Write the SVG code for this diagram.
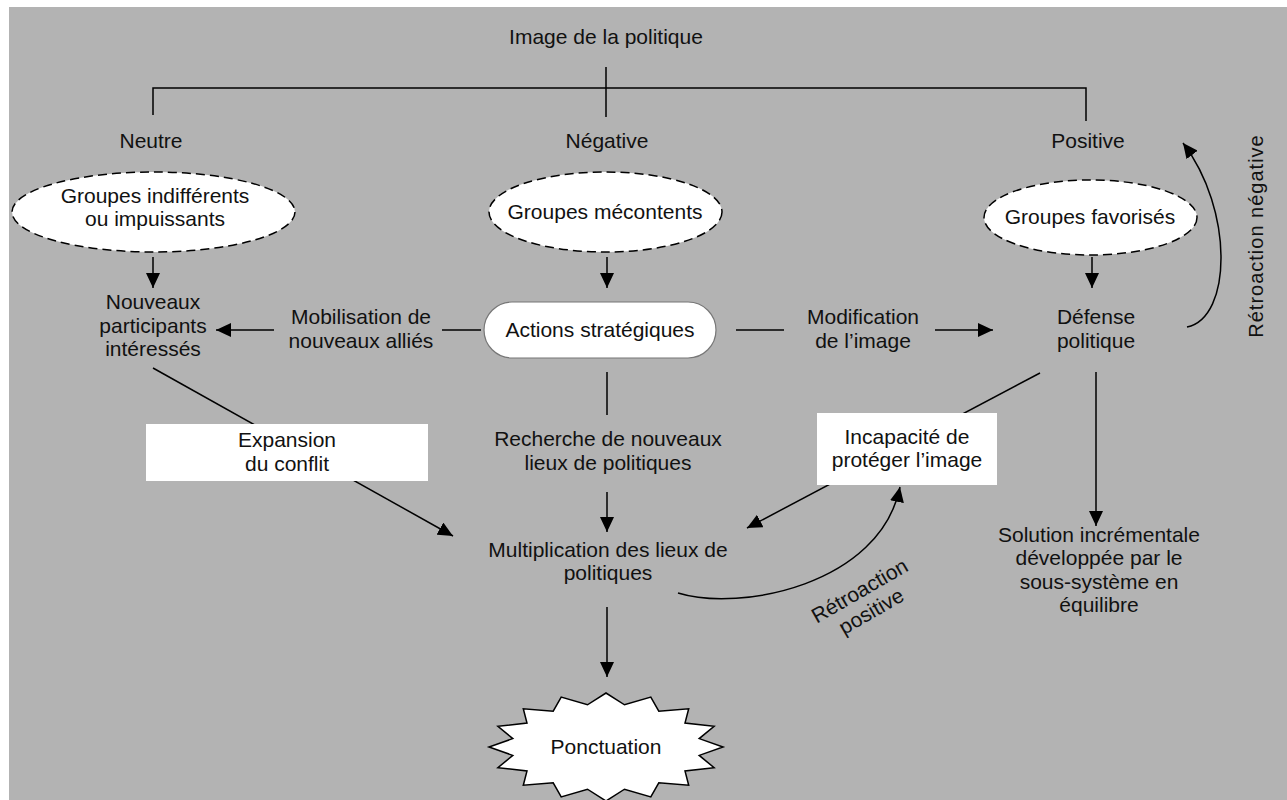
<svg xmlns="http://www.w3.org/2000/svg" width="1287" height="800" viewBox="0 0 1287 800">
<style>
text{font-family:"Liberation Sans",Arial,Helvetica,sans-serif;font-size:21px;fill:#111;text-anchor:middle}
.ln{fill:none;stroke:#000;stroke-width:1.5}
.ell{fill:#fff;stroke:#000;stroke-width:1.5;stroke-dasharray:9 5}
.box{fill:#fff;stroke:none}
</style>
<defs>
<marker id="ah" markerUnits="userSpaceOnUse" markerWidth="15" markerHeight="14" viewBox="0 0 15 14" refX="15" refY="7" orient="auto">
<path d="M0,0 L15,7 L0,14 z" fill="#000"/>
</marker>
</defs>
<rect x="9" y="7" width="1278" height="793" fill="#b3b3b3"/>
<g id="connectors">
<path class="ln" d="M153 115 V88 H1086 V121"/>
<path class="ln" d="M606 67 V117"/>
<path class="ln" d="M153 257 V288" marker-end="url(#ah)"/>
<path class="ln" d="M607 257 V288" marker-end="url(#ah)"/>
<path class="ln" d="M1092 257 V288" marker-end="url(#ah)"/>
<path class="ln" d="M274 330 H216" marker-end="url(#ah)"/>
<path class="ln" d="M442 330 H481"/>
<path class="ln" d="M736 330 H784"/>
<path class="ln" d="M935 330 H993" marker-end="url(#ah)"/>
<path class="ln" d="M153 368 L453 536" marker-end="url(#ah)"/>
<path class="ln" d="M607 372 V415"/>
<path class="ln" d="M607 492 V532" marker-end="url(#ah)"/>
<path class="ln" d="M1040 373 L747 528" marker-end="url(#ah)"/>
<path class="ln" d="M607 607 V677" marker-end="url(#ah)"/>
<path class="ln" d="M1096 372 V526" marker-end="url(#ah)"/>
<path class="ln" d="M678 593 C740 612 880 585 900 487" marker-end="url(#ah)"/>
<path class="ln" d="M1187 327 C1232 318 1234 210 1183 143" marker-end="url(#ah)"/>
<text x="361" y="324.25">Mobilisation de</text>
<text x="361" y="347.75">nouveaux alliés</text>
<text x="863" y="324.25">Modification</text>
<text x="863" y="347.75">de l’image</text>
<text x="608" y="446.25">Recherche de nouveaux</text>
<text x="608" y="469.75">lieux de politiques</text>
<g transform="translate(866,602) rotate(-30)">
<text x="0" y="-5.75">Rétroaction</text>
<text x="0" y="17.75">positive</text>
</g>
<text transform="translate(1263,236) rotate(-90)" x="0" y="0" style="font-size:20px;letter-spacing:1px">Rétroaction négative</text>
</g>
<g id="title"><text x="606" y="44">Image de la politique</text></g>
<g id="neutre"><text x="151" y="148">Neutre</text></g>
<g id="negative"><text x="607" y="148">Négative</text></g>
<g id="positive"><text x="1088" y="148">Positive</text></g>
<g id="groupes-indifferents">
<ellipse class="ell" cx="153.5" cy="212" rx="141.5" ry="40"/>
<text x="155" y="202.75">Groupes indifférents</text>
<text x="155" y="226.25">ou impuissants</text>
</g>
<g id="groupes-mecontents">
<ellipse class="ell" cx="605.5" cy="212" rx="116.5" ry="40"/>
<text x="605" y="219">Groupes mécontents</text>
</g>
<g id="groupes-favorises">
<ellipse class="ell" cx="1090.5" cy="217.5" rx="106.5" ry="37.5"/>
<text x="1090" y="224">Groupes favorisés</text>
</g>
<g id="nouveaux-participants">
<text x="153" y="309">Nouveaux</text>
<text x="153" y="332.5">participants</text>
<text x="153" y="356">intéressés</text>
</g>
<g id="actions-strategiques">
<rect x="484" y="302" width="232" height="56" rx="28" fill="#fff" stroke="#777" stroke-width="1.2"/>
<text x="600" y="337">Actions stratégiques</text>
</g>
<g id="defense-politique">
<text x="1096" y="324.25">Défense</text>
<text x="1096" y="347.75">politique</text>
</g>
<g id="expansion">
<rect class="box" x="146" y="424" width="282" height="57"/>
<text x="287" y="447.25">Expansion</text>
<text x="287" y="470.75">du conflit</text>
</g>
<g id="incapacite">
<rect class="box" x="817" y="413" width="180" height="72"/>
<text x="907" y="443.75">Incapacité de</text>
<text x="907" y="467.25">protéger l’image</text>
</g>
<g id="multiplication">
<text x="608" y="556.75">Multiplication des lieux de</text>
<text x="608" y="580.25">politiques</text>
</g>
<g id="solution">
<text x="1099" y="541.75">Solution incrémentale</text>
<text x="1099" y="565.25">développée par le</text>
<text x="1099" y="588.75">sous-système en</text>
<text x="1099" y="612.25">équilibre</text>
</g>
<g id="ponctuation">
<polygon fill="#fff" stroke="#000" stroke-width="1.5" points="723,747 699.2,738.6 714.1,726.3 685,723.1 688.7,708.8 658.8,711.2 650.8,697.1 624.5,704.8 606,693 587.5,704.8 561.2,697.1 553.2,711.2 523.3,708.8 527,723.1 497.9,726.3 512.8,738.6 489,747 512.8,755.4 497.9,767.7 527,770.9 523.3,785.2 553.2,782.8 561.2,796.9 587.5,789.2 606,801 624.5,789.2 650.8,796.9 658.8,782.8 688.7,785.2 685,770.9 714.1,767.7 699.2,755.4"/>
<text x="606" y="754">Ponctuation</text>
</g>
</svg>
